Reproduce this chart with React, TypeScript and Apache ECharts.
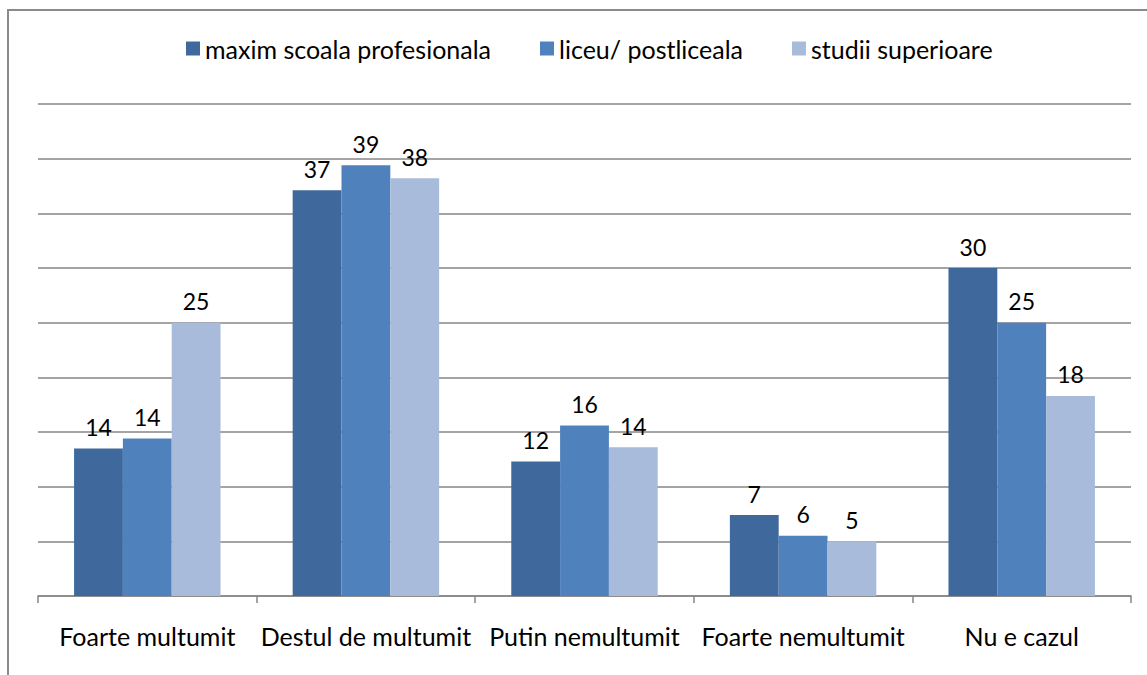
import React, { useEffect, useRef } from "react";
import * as echarts from "echarts";

const categories = ["Foarte multumit", "Destul de multumit", "Putin nemultumit", "Foarte nemultumit", "Nu e cazul"];
const seriesNames = ["maxim scoala profesionala", "liceu/ postliceala", "studii superioare"];
const valuesProf = [13.5, 37.1, 12.3, 7.4, 30.0];
const valuesLiceu = [14.4, 39.4, 15.6, 5.5, 25.0];
const valuesSuper = [25.0, 38.2, 13.6, 5.0, 18.3];
const colors = ["#3F699C", "#4F81BD", "#A9BBDA"];

const FONT = "Lato, 'Open Sans', sans-serif";

export default function App() {
  const ref = useRef<HTMLDivElement>(null);
  useEffect(() => {
    const chart = echarts.init(ref.current!, null, { renderer: "svg" });
    const data = [valuesProf, valuesLiceu, valuesSuper];
    chart.setOption({
      animation: false,
      backgroundColor: "#ffffff",
      textStyle: { fontFamily: FONT },
      graphic: [
        {
          type: "rect",
          shape: { x: 8, y: 10, width: 1300, height: 800 },
          style: { fill: "none", stroke: "#8a8a8a", lineWidth: 2 },
          silent: true,
        },
      ],
      legend: {
        top: 31,
        left: 181,
        itemWidth: 14,
        itemHeight: 14,
        itemGap: 49,
        icon: "rect",
        textStyle: { fontSize: 25, color: "#000", fontFamily: FONT },
        data: seriesNames,
      },
      grid: { left: 38, right: 16, top: 104, bottom: 79, containLabel: false },
      xAxis: {
        type: "category",
        data: categories,
        axisLine: { lineStyle: { color: "#868686", width: 1.5 } },
        axisTick: { show: true, length: 7, lineStyle: { color: "#868686", width: 1.5 } },
        axisLabel: { fontSize: 25, color: "#000", margin: 27, interval: 0, fontFamily: FONT },
      },
      yAxis: {
        type: "value",
        min: 0,
        max: 45,
        interval: 5,
        axisLine: { show: false },
        axisTick: { show: false },
        axisLabel: { show: false },
        splitLine: { lineStyle: { color: "#868686", width: 1.5 } },
      },
      series: seriesNames.map((name, i) => ({
        name,
        type: "bar",
        data: data[i],
        barGap: "0%",
        barCategoryGap: "33%",
        itemStyle: { color: colors[i] },
        label: {
          show: true,
          position: "top",
          distance: 10,
          fontSize: 23,
          color: "#000",
          fontFamily: FONT,
          formatter: (p: any) => String(Math.round(p.value)),
        },
      })),
    });
    return () => chart.dispose();
  }, []);
  return <div ref={ref} style={{ position: "fixed", left: 0, top: 0, width: 1147, height: 675 }} />;
}
